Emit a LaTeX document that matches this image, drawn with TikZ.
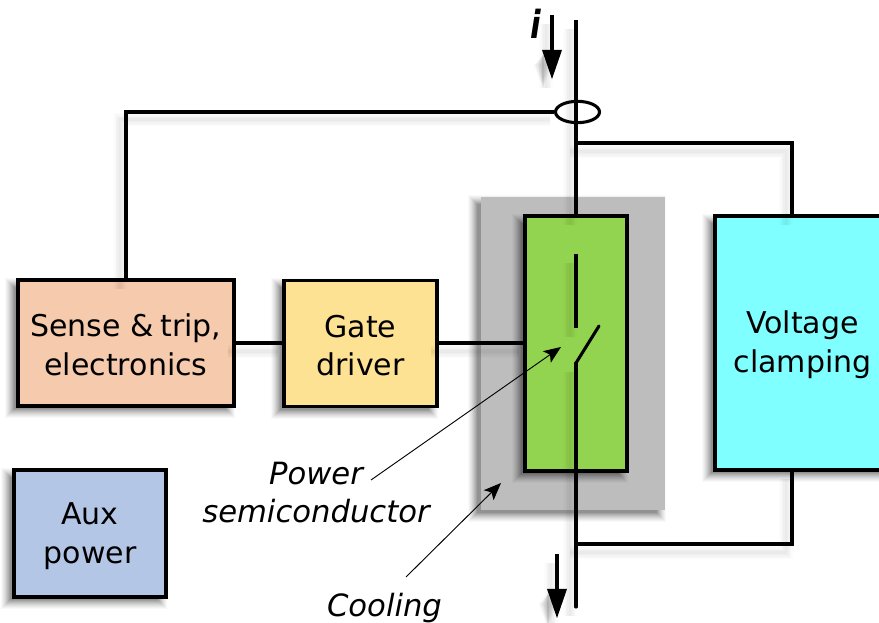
\documentclass[tikz,border=0pt]{standalone}
\usepackage{fontspec}
\setmainfont{DejaVu Sans}
\usetikzlibrary{arrows.meta,calc,shapes.geometric}
\definecolor{sensec}{HTML}{F6CAAC}
\definecolor{gatec}{HTML}{FEE294}
\definecolor{auxc}{HTML}{B4C6E6}
\definecolor{semic}{HTML}{92D34F}
\definecolor{clampc}{HTML}{7FFFFF}
\definecolor{coolc}{HTML}{BDBDBD}
\tikzset{
  x=0.75pt,y=-0.75pt,
  blockbox/.style={draw=black,line width=2.3pt,rectangle,inner sep=0pt},
  blocktext/.style={inner sep=0pt,align=center,font=\fontsize{22.5}{29}\selectfont},
  wire/.style={line width=2.3pt,line cap=butt,line join=miter},
  thinarrow/.style={line width=0.7pt,-{Stealth[length=13pt,width=10.5pt,inset=3pt]}},
  annolabel/.style={inner sep=0pt,align=center,font=\fontsize{23}{28.5}\selectfont\itshape},
}
% soft shadow of a rectangle, given corners in px
\newcommand{\softrect}[4]{%
  \foreach \g/\o in {7/0.025,6/0.03,5/0.035,4/0.04,3/0.05,2/0.055,1/0.06,0/0.07,-1/0.08,-2/0.09}{%
    \fill[black,opacity=\o] (#1-6-\g,#2+5-\g) rectangle (#3-6+\g,#4+5+\g);
  }}
% soft shadow of a stroked path
\newcommand{\softwire}[1]{%
  \begin{scope}[transform canvas={xshift=-4.5pt,yshift=-6.5pt}]
    \foreach \w/\o in {10/0.012,8/0.014,6/0.016,4/0.018,2/0.02}{%
      \draw[black,opacity=\o,line width=\w pt] #1;
    }
  \end{scope}}
\begin{document}
\begin{tikzpicture}
\useasboundingbox (0,0) rectangle (879,623);
\begin{scope}
\clip (0,0) rectangle (879,623);
% cooling plate
\softrect{481}{197}{665}{510}
\node[fill=coolc,inner sep=0pt,minimum width=138pt,minimum height=234.75pt] (cool) at (573,353.5) {};
% box shadows
\softrect{18}{280}{234}{406}
\softrect{284}{280}{437}{407}
\softrect{14}{470}{166}{597}
\softrect{525}{216}{627}{471}
\softrect{715}{216}{900}{470}
% boxes
\node[blockbox,fill=sensec,minimum width=162pt,minimum height=94.5pt] (sense) at (126,343) {};
\node[blockbox,fill=gatec,minimum width=114.75pt,minimum height=95pt] (gate) at (360.5,343.5) {};
\node[blockbox,fill=auxc,minimum width=114pt,minimum height=95.25pt] (aux) at (90,533.5) {};
\node[blockbox,fill=semic,minimum width=76.5pt,minimum height=191.25pt] (semi) at (576,343.5) {};
\node[blockbox,fill=clampc,minimum width=131.25pt,minimum height=190.5pt] (clamp) at (802.5,343) {};
% reference points
\coordinate (topend) at (576,20);
\coordinate (botend) at (576,607);
\coordinate (swtop) at (576,254);
\coordinate (swbot) at (576,328);
\coordinate (bladeA) at (599,326);
\coordinate (bladeB) at (576,363);
\coordinate (upT) at (576,143);
\coordinate (upR) at (792,143);
\coordinate (dnT) at (576,544);
\coordinate (dnR) at (792,544);
\coordinate (loopC) at (126,111);
\coordinate (iA) at (552,15);
\coordinate (iB) at (552,79);
\coordinate (oA) at (557,554);
\coordinate (oB) at (557,618);
\coordinate (psS) at (371,480);
\coordinate (psE) at (561,347);
\coordinate (coS) at (406,577);
\coordinate (coE) at (501,483);
\coordinate (jl) at (234,343);
\coordinate (jg) at (284,343);
\coordinate (jh) at (437,343);
\coordinate (js) at (525,343);
\coordinate (upB) at (792,216);
\coordinate (dnB) at (792,470);
\coordinate (semT) at (576,216);
\coordinate (senT) at (126,280);
\coordinate (ringW) at (556,111);
% wire shadows
\softwire{(topend) -- (semT)}
\softwire{(swtop) -- (swbot)}
\softwire{(bladeB) -- (botend)}
\softwire{(ringW) -- (loopC) -- (senT)}
\softwire{(upT) -- (upR) -- (upB)}
\softwire{(dnB) -- (dnR) -- (dnT)}
\softwire{(jl) -- (jg)}
\softwire{(jh) -- (js)}
\softwire{(iA) -- (iB)}
\softwire{(oA) -- (oB)}
% arrowhead shadows
\foreach \s/\o in {9/0.04,7/0.05,5/0.06,3/0.07,1/0.08}{%
  \fill[black,opacity=\o] ($(iB)+(-9-\s,-14)$) -- ($(iB)+(-9,\s)$) -- ($(iB)+(-9+\s,-14)$) -- ($(iB)+(-9,-24)$) -- cycle;
  \fill[black,opacity=\o] ($(oB)+(-9-\s,-14)$) -- ($(oB)+(-9,\s)$) -- ($(oB)+(-9+\s,-14)$) -- ($(oB)+(-9,-24)$) -- cycle;
}
% wires
\draw[wire] (topend) -- (semT);
\draw[wire] (swtop) -- (swbot);
\draw[wire,line cap=round] (bladeA) -- (bladeB);
\draw[wire,line cap=round] (bladeB) -- (botend);
\node[draw=black,line width=2.3pt,ellipse,inner sep=0pt,minimum width=33pt,minimum height=16pt] (ring) at (577.5,112) {};
\draw[wire] (ring.west) -- (ring.west -| loopC) -- (sense.north);
\draw[wire] (upT) -- (upR) -- (upB);
\draw[wire] (dnB) -- (dnR) -- (dnT);
\draw[wire] (jl) -- (jg);
\draw[wire] (jh) -- (js);
% current arrows
\draw[line width=2.3pt] (iA) -- ($(iB)+(0,-25)$);
\fill[black] ($(iB)+(-10,-29)$) -- (iB) -- ($(iB)+(10,-29)$) -- cycle;
\draw[line width=2.3pt] (oA) -- ($(oB)+(0,-25)$);
\fill[black] ($(oB)+(-10,-29)$) -- (oB) -- ($(oB)+(10,-29)$) -- cycle;
% box labels
\node[blocktext] at ($(sense)+(0,2)$) {Sense \&\hspace{-0.1em} trip,\\electronics};
\node[blocktext] at ($(gate)+(0,2)$) {Gate\\driver};
\node[blocktext] at ($(aux)+(0,2.5)$) {Aux\\power};
\node[blocktext] at ($(clamp)+(0,2)$) {Voltage\\clamping};
% annotation labels
\node[annolabel] (ps) at (316,493) {Power\\semiconductor};
\node[annolabel] (co) at (384.5,608) {Cooling};
\node[inner sep=0pt,xscale=0.8,font=\fontsize{29}{30}\selectfont\bfseries\itshape] (cur) at (536,24) {i};
\draw[thinarrow] (psS) -- (psE);
\draw[thinarrow] (coS) -- (coE);
\end{scope}
\end{tikzpicture}
\end{document}
